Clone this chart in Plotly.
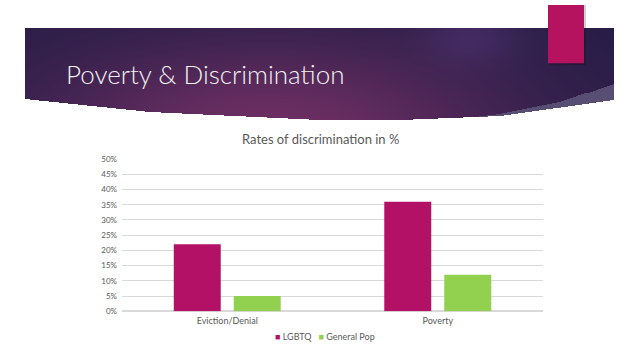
import numpy as np
import plotly.graph_objects as go

# ---- data ----
categories = ["Eviction/Denial", "Poverty"]
lgbtq = [22, 36]
general_pop = [5, 12]
series_names = ["LGBTQ", "General Pop"]
chart_title = "Rates of discrimination in %"
slide_title = "Poverty & Discrimination"

MAGENTA = "#B31166"
GREEN = "#92D050"
FONT = "Lato, 'Open Sans', sans-serif"

W, H = 640, 360
HB = 125  # banner image rows

# ---- decorative banner background (image) ----
yy, xx = np.mgrid[0:HB, 0:W].astype(float) + 0.5
bx = [25, 150, 320, 400, 500, 614]
by = [97, 110, 118, 118, 114, 98]
ybot = np.interp(xx, bx, by)
inside = (xx >= 25) & (xx <= 614) & (yy >= 24) & (yy <= ybot)

base = np.array([38, 29, 70], float)
c1 = np.array([110, 47, 100], float)
c2 = np.array([78, 50, 112], float)
w1 = np.exp(-(((xx - 270) / 240) ** 2 + ((yy - 135) / 100) ** 2))
w2 = 0.6 * np.exp(-(((xx - 470) / 50) ** 2 + ((yy - 35) / 30) ** 2))
col = base[None, None, :] * (1 - w1[..., None]) + c1[None, None, :] * w1[..., None]
col = col * (1 - w2[..., None]) + c2[None, None, :] * w2[..., None]

sx = [450, 500, 560, 614]
sy = [118, 112, 100, 81]
ystrip = np.interp(xx, sx, sy)
strip = inside & (xx >= 450) & (yy >= ystrip)
strip_col = np.array([88, 78, 115], float)

img = np.full((HB, W, 3), 255.0)
img[inside] = col[inside]
img[strip] = strip_col
img = img.astype(np.uint8)

fig = go.Figure()

fig.add_trace(go.Image(z=img, x0=0.5, y0=0.5, dx=1, dy=1,
                       xaxis="x2", yaxis="y2", hoverinfo="skip"))

# ---- bars ----
fig.add_trace(go.Bar(x=categories, y=lgbtq, name=series_names[0],
                     marker=dict(color=MAGENTA, line=dict(width=0))))
fig.add_trace(go.Bar(x=categories, y=general_pop, name=series_names[1],
                     marker=dict(color=GREEN, line=dict(width=0))))

# accent rectangle with soft shadow
fig.add_shape(type="rect", xref="x2", yref="y2", x0=549, x1=586, y0=0, y1=62,
              fillcolor="rgba(0,0,0,0.18)", line=dict(width=0), layer="above")
fig.add_shape(type="rect", xref="x2", yref="y2", x0=548, x1=584, y0=0, y1=60,
              fillcolor="#B5135F", line=dict(width=0), layer="above")

fig.add_annotation(text=slide_title, xref="paper", yref="paper",
                   x=64 / W, y=1 - 71 / H, xanchor="left", yanchor="middle",
                   showarrow=False,
                   font=dict(family=FONT, size=26, color="#F2F2F2", weight=300))
fig.add_annotation(text=chart_title, xref="paper", yref="paper",
                   x=320 / W, y=1 - 138 / H, xanchor="center", yanchor="middle",
                   showarrow=False, font=dict(family=FONT, size=13, color="#595959"))

# compact legend as text
legend_text = (f"<span style='color:{MAGENTA}'>■</span> {series_names[0]}"
               f"   <span style='color:{GREEN}'>■</span> {series_names[1]}")
fig.add_annotation(text=legend_text, xref="paper", yref="paper",
                   x=325 / W, y=1 - 341 / H, xanchor="center", yanchor="middle",
                   showarrow=False, font=dict(family=FONT, size=9, color="#595959"))

fig.update_layout(
    width=W, height=H, autosize=False,
    margin=dict(l=0, r=0, t=0, b=0),
    paper_bgcolor="white", plot_bgcolor="white",
    barmode="group", bargap=0.43, bargroupgap=0.217,
    font=dict(family=FONT, color="#595959"),
    showlegend=False,
    xaxis=dict(domain=[122 / W, 543 / W], anchor="y", showgrid=False,
               showline=False, ticks="", ticklabelstandoff=3,
               tickfont=dict(size=9, color="#595959")),
    yaxis=dict(domain=[1 - 315 / H, 1 - 158.5 / H], anchor="x", range=[0, 50],
               dtick=5, ticksuffix="%", showgrid=True, gridcolor="#D9D9D9",
               gridwidth=1, zeroline=True, zerolinecolor="#D9D9D9",
               showline=False, ticks="", ticklabelstandoff=4,
               tickfont=dict(size=8, color="#595959")),
    xaxis2=dict(domain=[0, 1], range=[0, W], anchor="y2", visible=False,
                fixedrange=True),
    yaxis2=dict(domain=[1 - HB / H, 1], range=[HB, 0], anchor="x2",
                visible=False, fixedrange=True, scaleanchor=False),
)

fig.write_html("out.html", config={"displayModeBar": False},
               post_script="document.body.style.margin='0px';document.body.style.overflow='hidden';")
